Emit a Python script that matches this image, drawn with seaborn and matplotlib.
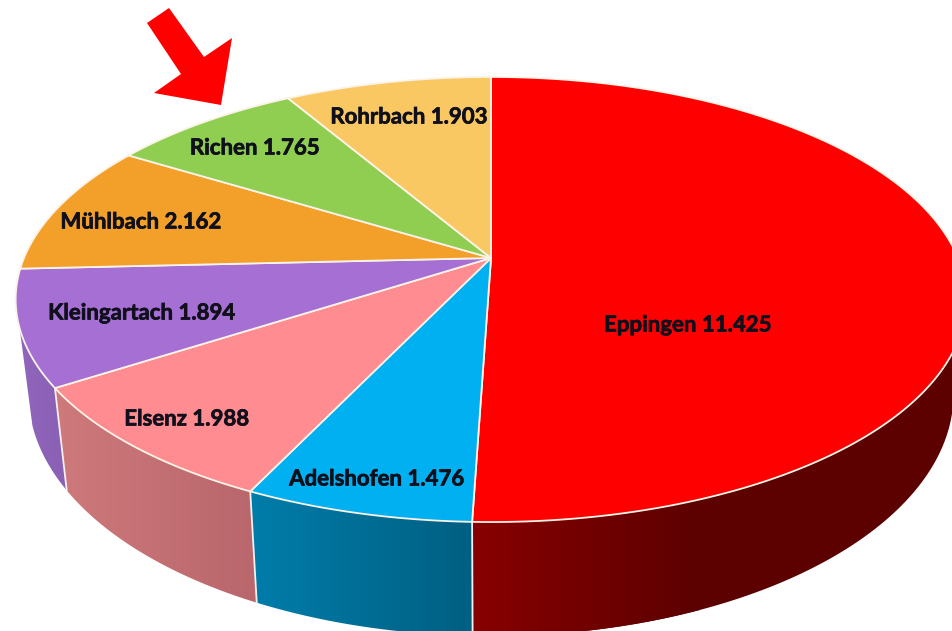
import numpy as np
import matplotlib
matplotlib.use("Agg")
import matplotlib.pyplot as plt
import matplotlib.patheffects as pe
import seaborn as sns
from matplotlib.colors import LinearSegmentedColormap
from matplotlib.patches import PathPatch, Polygon
from matplotlib.path import Path

# Slices in clockwise order, starting at the top
categories = ["Eppingen", "Adelshofen", "Elsenz", "Kleingartach", "Mühlbach", "Richen", "Rohrbach"]
values = [11.425, 1.476, 1.988, 1.894, 2.162, 1.765, 1.903]
top_colors = ["#FF0000", "#00B0F0", "#FF8C90", "#A56FD4", "#F2A02A", "#8FCE50", "#FAC862"]
# left / right colour of the visible side wall
wall_left = ["#880000", "#007DAA", "#CE7A7C", "#9065BC"]
wall_right = ["#5C0000", "#005F82", "#B9666C", "#8A60B4"]
label_x = [688, 377, 187, 142, 141, 255, 409]
label_y = [325, 479, 419, 313, 222, 148, 117]

# Perspective of the disc in pixels
APEX_X, APEX_Y = 491, 258
A, B, K = 467.0, 214.8, 0.1865
LOW_SX, LOW_SY, LOW_Y = 0.973, 1.087, 349.0
WALL_START, WALL_END = 101.0, 252.0  # degrees clockwise from the top


def rim(deg):
    t = np.radians(deg)
    u, v = np.sin(t), np.cos(t)
    w = 1 + K * v
    return APEX_X + A * u / w, APEX_Y - B * v / w


def low_rim(deg):
    x, y = rim(deg)
    return APEX_X + LOW_SX * (x - APEX_X), LOW_Y + LOW_SY * (y - APEX_Y)


sns.set_theme(style="white")
plt.rcParams["font.family"] = ["Lato", "DejaVu Sans"]

fig = plt.figure(figsize=(9.52, 6.31), dpi=100)
ax = fig.add_axes([0, 0, 1, 1])

edges = np.concatenate([[0], np.cumsum(values)]) / np.sum(values) * 360

# Side walls, with a horizontal gradient clipped to each wall
for i in range(len(wall_left)):
    a0 = max(edges[i], WALL_START)
    a1 = min(edges[i + 1], WALL_END)
    deg = np.linspace(a0, a1, 120)
    tx, ty = rim(deg)
    bx, by = low_rim(deg[::-1])
    xs = np.concatenate([tx, bx])
    ys = np.concatenate([ty, by])
    cmap = LinearSegmentedColormap.from_list("wall", [wall_left[i], wall_right[i]])
    x0, x1 = max(xs.min(), 0), min(xs.max(), 952)
    if i == 0:
        x1 = 700  # stays flat dark past here
    img = ax.imshow(np.linspace(0, 1, 256).reshape(1, -1), cmap=cmap, aspect="auto",
                    extent=[x0, x1, ys.max(), ys.min()], zorder=1)
    patch = Polygon(np.column_stack([xs, ys]), closed=True, fc="none", ec="none", zorder=1)
    ax.add_patch(patch)
    img.set_clip_path(patch)
    if i == 0:
        dark = Polygon(np.column_stack([xs, ys]), closed=True, fc=wall_right[0], ec="none", zorder=0.9)
        ax.add_patch(dark)

# Seams between the walls
for a in edges[1:4]:
    tx, ty = rim(a)
    bx, by = low_rim(a)
    ax.plot([tx, bx], [ty, by], color="#F4F0F0", lw=1.3, zorder=2)

# Top face
for i, col in enumerate(top_colors):
    deg = np.linspace(edges[i], edges[i + 1], 200)
    x, y = rim(deg)
    verts = np.column_stack([np.r_[APEX_X, x, APEX_X], np.r_[APEX_Y, y, APEX_Y]])
    codes = [Path.MOVETO] + [Path.LINETO] * (len(verts) - 2) + [Path.CLOSEPOLY]
    ax.add_patch(PathPatch(Path(verts, codes), fc=col, ec="#FBF3E8", lw=1.3, zorder=3, joinstyle="round"))

# Labels
for name, val, lx, ly in zip(categories, values, label_x, label_y):
    ax.text(lx, ly, f"{name} {val:.3f}", ha="center", va="center", fontsize=16,
            fontweight="bold", color="#10101C", zorder=5,
            path_effects=[pe.withStroke(linewidth=0.5, foreground="#10101C")])

# Red arrow pointing at Richen
arrow = [(169, 8), (204, 57), (232, 38), (221, 105), (154, 93), (181, 74), (147, 23)]
ax.add_patch(Polygon(arrow, closed=True, fc="#FF0000", ec="none", zorder=6))

ax.set_xlim(0, 952)
ax.set_ylim(631, 0)
ax.axis("off")
fig.savefig("out.png", dpi=100, facecolor="white")
